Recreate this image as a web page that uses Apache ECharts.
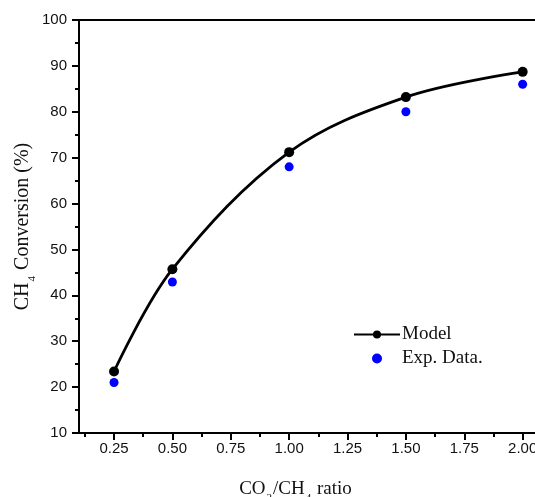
<!DOCTYPE html>
<html><head><meta charset="utf-8">
<script src="https://cdn.jsdelivr.net/npm/echarts@6/dist/echarts.min.js"></script>
<style>html,body{margin:0;padding:0;background:#fff}#c{width:535px;height:497px}</style>
</head><body><div id="c"></div>
<script>
var ratios = [0.25, 0.5, 1.0, 1.5, 2.0];
var modelValues = [23.4, 45.7, 71.2, 83.2, 88.7];
var expValues = [21.0, 42.9, 68.0, 80.0, 86.0];
var xTickLabels = [0.25, 0.5, 0.75, 1.0, 1.25, 1.5, 1.75, 2.0];
var xMinorTicks = [0.125, 0.375, 0.625, 0.875, 1.125, 1.375, 1.625, 1.875, 2.125];

function pairs(xs, ys){ return xs.map(function(x,i){return [x, ys[i]];}); }

var chart = echarts.init(document.getElementById('c'));
var serif = 'Liberation Serif';
var sans = 'Liberation Sans';
var common = {min:0.1, max:2.1, type:'value'};
function rich(fs){ return {
  a:{fontFamily:serif, fontSize:fs, color:'#111', lineHeight:22, verticalAlign:'bottom'},
  s:{fontFamily:serif, fontSize:11, color:'#111', lineHeight:22, verticalAlign:'bottom', padding:[0,1,-5,1]}
};}
chart.setOption({
  animation:false,
  grid:{left:79, top:20, width:467, height:413, containLabel:false, outerBoundsMode:'none'},
  xAxis:[
    Object.assign({}, common, {
      position:'bottom',
      axisLine:{show:true, onZero:false, lineStyle:{color:'#000', width:2}},
      axisTick:{show:true, length:7, lineStyle:{color:'#000', width:2}, customValues:xTickLabels},
      axisLabel:{customValues:xTickLabels, color:'#111', fontFamily:sans, fontSize:15, margin:8,
        formatter:function(v){return v.toFixed(2);}},
      splitLine:{show:false},
      name:'{a|CO}{s|2}{a|/CH}{s|4}{a| ratio}',
      nameLocation:'middle', nameGap:44, nameMoveOverlap:false,
      nameTextStyle:{rich:rich(19), padding:[0,34,0,0]}
    }),
    Object.assign({}, common, {
      position:'bottom',
      axisLine:{show:false, onZero:false},
      axisTick:{show:true, length:4, lineStyle:{color:'#000', width:2}, customValues:xMinorTicks},
      axisLabel:{show:false}, splitLine:{show:false}
    }),
    Object.assign({}, common, {
      position:'top',
      axisLine:{show:true, onZero:false, lineStyle:{color:'#000', width:2}},
      axisTick:{show:false}, axisLabel:{show:false}, splitLine:{show:false}
    })
  ],
  yAxis:{
    type:'value', min:10, max:100, interval:10,
    axisLine:{show:true, onZero:false, lineStyle:{color:'#000', width:2}},
    axisTick:{show:true, length:7, lineStyle:{color:'#000', width:2}},
    minorTick:{show:true, splitNumber:2, length:4, lineStyle:{color:'#000', width:2}},
    axisLabel:{color:'#111', fontFamily:sans, fontSize:15, margin:12},
    splitLine:{show:false},
    name:'{a|CH}{s|4}{a| Conversion (%)}',
    nameLocation:'middle', nameGap:46, nameRotate:90, nameMoveOverlap:false,
    nameTextStyle:{rich:rich(20)}
  },
  legend:{
    orient:'vertical', left:348, top:320, itemGap:5, itemWidth:46, itemHeight:10,
    textStyle:{fontFamily:serif, fontSize:19, color:'#111', padding:[0,0,0,-3]},
    data:['Model','Exp. Data.']
  },
  series:[
    {name:'Model', type:'line', smooth:0.35, data:pairs(ratios, modelValues),
     symbol:'circle', symbolSize:10, showAllSymbol:true,
     lineStyle:{color:'#000', width:2.8}, itemStyle:{color:'#000'}},
    {name:'Exp. Data.', type:'scatter', data:pairs(ratios, expValues),
     symbol:'circle', symbolSize:9, itemStyle:{color:'#0000ff', opacity:1}}
  ]
});
</script></body></html>
